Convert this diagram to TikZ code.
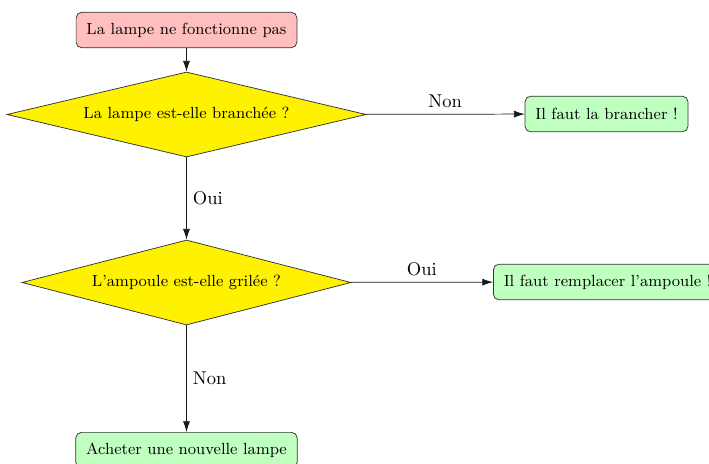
\documentclass[tikz,border=0pt]{standalone}
\usetikzlibrary{shapes.geometric,arrows.meta}
\begin{document}
\begin{tikzpicture}[x=0.54pt,y=-0.54pt,
  every node/.style={font=\normalsize},
  boxfont/.style={font=\fontsize{8.7pt}{10.5pt}\selectfont},
  boxnode/.style={draw=black!80, rounded corners=3pt, boxfont,
    inner xsep=5.6pt, minimum height=19.2pt},
  startbox/.style={boxnode, fill=red!25},
  endbox/.style={boxnode, fill=green!25},
  question/.style={draw=black!80, diamond, fill=yellow, boxfont,
    inner sep=0pt, minimum height=45.9pt},
  flow/.style={draw=black!90, -{Latex[length=5.8pt,width=3.8pt]}},
  lbl/.style={inner sep=3.3pt}]
  \useasboundingbox (0,0) rectangle (709,463);

  \node[startbox] (start) at (186.5,30) {La lampe ne fonctionne pas};
  \node[question, aspect=4.2, minimum width=193.9pt] (q1) at (186.5,114.5) {La lampe est-elle branch\'ee ?};
  \node[endbox] (plug) at (606.5,114) {Il faut la brancher !};
  \node[question, aspect=3.9, minimum width=177.7pt] (q2) at (186.5,282.5) {L'ampoule est-elle gril\'ee ?};
  \node[endbox, anchor=west] (bulb) at (493,282) {Il faut remplacer l'ampoule !};
  \node[endbox, anchor=north] (buy) at (186.5,432) {Acheter une nouvelle lampe};

  \draw[flow] (start) -- (q1);
  \draw[flow] (q1) -- node[lbl, above] {Non} (plug);
  \draw[flow] (q1) -- node[lbl, right] {Oui} (q2);
  \draw[flow] (q2) -- node[lbl, above] {Oui} (bulb);
  \draw[flow] (q2) -- node[lbl, right] {Non} (buy);
\end{tikzpicture}
\end{document}
